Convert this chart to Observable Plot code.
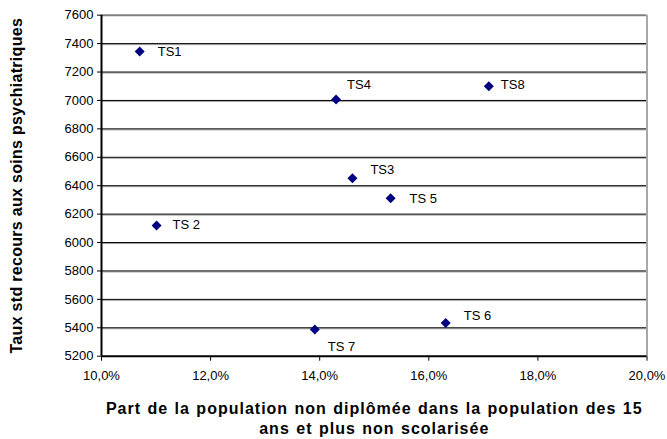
<!DOCTYPE html>
<html><head><meta charset="utf-8">
<script src="https://cdn.jsdelivr.net/npm/d3@7"></script>
<script src="https://cdn.jsdelivr.net/npm/@observablehq/plot@0.6"></script>
<style>body{margin:0;background:#fff} svg{display:block}</style>
</head><body><div id="chart"></div>
<script>
// Data
const names  = ["TS1", "TS 2", "TS3", "TS4", "TS 5", "TS 6", "TS 7", "TS8"];
const shares = [10.70, 11.01, 14.60, 14.30, 15.30, 16.31, 13.91, 17.10]; // % non diplômés
const rates  = [7345, 6120, 6453, 7007, 6312, 5433, 5388, 7100];         // taux std
const yTicks = [5200, 5400, 5600, 5800, 6000, 6200, 6400, 6600, 6800, 7000, 7200, 7400, 7600];
const xTicks = [10, 12, 14, 16, 18, 20];
const xTitle = "Part de la population non diplômée dans la population des 15\nans et plus non scolarisée";
const yTitle = "Taux std recours aux soins psychiatriques";

// label placement relative to the marker (layout only)
const labelOffsets = [[18, 0], [16, -1], [18, -8], [11, -15], [19, 1], [18, -7], [13, 17], [12, -1]];

const rows = names.map((n, i) => ({name: n, x: shares[i], y: rates[i]}));
const fmtX = d => d.toFixed(1).replace(".", ",") + "%";

const labelMarks = rows.map((r, i) => Plot.text([r], {
  x: "x", y: "y", text: "name", textAnchor: "start",
  dx: labelOffsets[i][0], dy: labelOffsets[i][1], fontSize: 13, fill: "#000"
}));

const chart = Plot.plot({
  width: 667, height: 439,
  marginLeft: 101, marginRight: 20.5, marginTop: 14.7, marginBottom: 83.3,
  style: {fontFamily: "'Liberation Sans', Arial, sans-serif", fontSize: "13px", color: "#000", background: "#fff"},
  x: {domain: [10, 20], label: null},
  y: {domain: [5200, 7600], label: null},
  marks: [
    Plot.ruleY(yTicks.filter(v => v > 5200 && v < 7600), {stroke: "#a0a0a0", dy: 1}),
    Plot.ruleY(yTicks.filter(v => v > 5200 && v < 7600), {stroke: "#000"}),
    Plot.ruleY([7600], {stroke: "#808080", strokeWidth: 2}),
    Plot.ruleX([20], {stroke: "#a8a8a8", strokeWidth: 2}),
    Plot.ruleX([10], {stroke: "#000", strokeWidth: 2}),
    Plot.ruleY([5200], {stroke: "#000", strokeWidth: 2}),
    Plot.axisY({ticks: yTicks, tickSize: 4, tickPadding: 4, tickFormat: d => String(d), label: null}),
    Plot.axisX({ticks: xTicks, tickSize: 5, tickPadding: 10, tickFormat: fmtX, label: null}),
    Plot.dot(rows, {x: "x", y: "y", symbol: "diamond2", r: 4.5, fill: "#000080", stroke: "none"}),
    ...labelMarks,
    Plot.text([xTitle], {frameAnchor: "bottom", lineAnchor: "top", textAnchor: "middle", dy: 44,
      fontSize: 16, fontWeight: "bold", lineHeight: 1.25, text: d => d}),
    Plot.text([yTitle], {frameAnchor: "left", textAnchor: "middle", lineAnchor: "middle", dx: -85, rotate: -90,
      fontSize: 16, fontWeight: "bold", text: d => d})
  ]
});
const texts = d3.select(chart).selectAll("text");
texts.filter(function() { return this.textContent.startsWith("Part de la"); })
  .attr("letter-spacing", "1").attr("word-spacing", "1")
  .style("letter-spacing", "1px").style("word-spacing", "1px");
texts.filter(function() { return this.textContent.startsWith("Taux std"); })
  .attr("letter-spacing", "0.3").style("letter-spacing", "0.3px");
document.getElementById("chart").append(chart);
</script>
</body></html>
